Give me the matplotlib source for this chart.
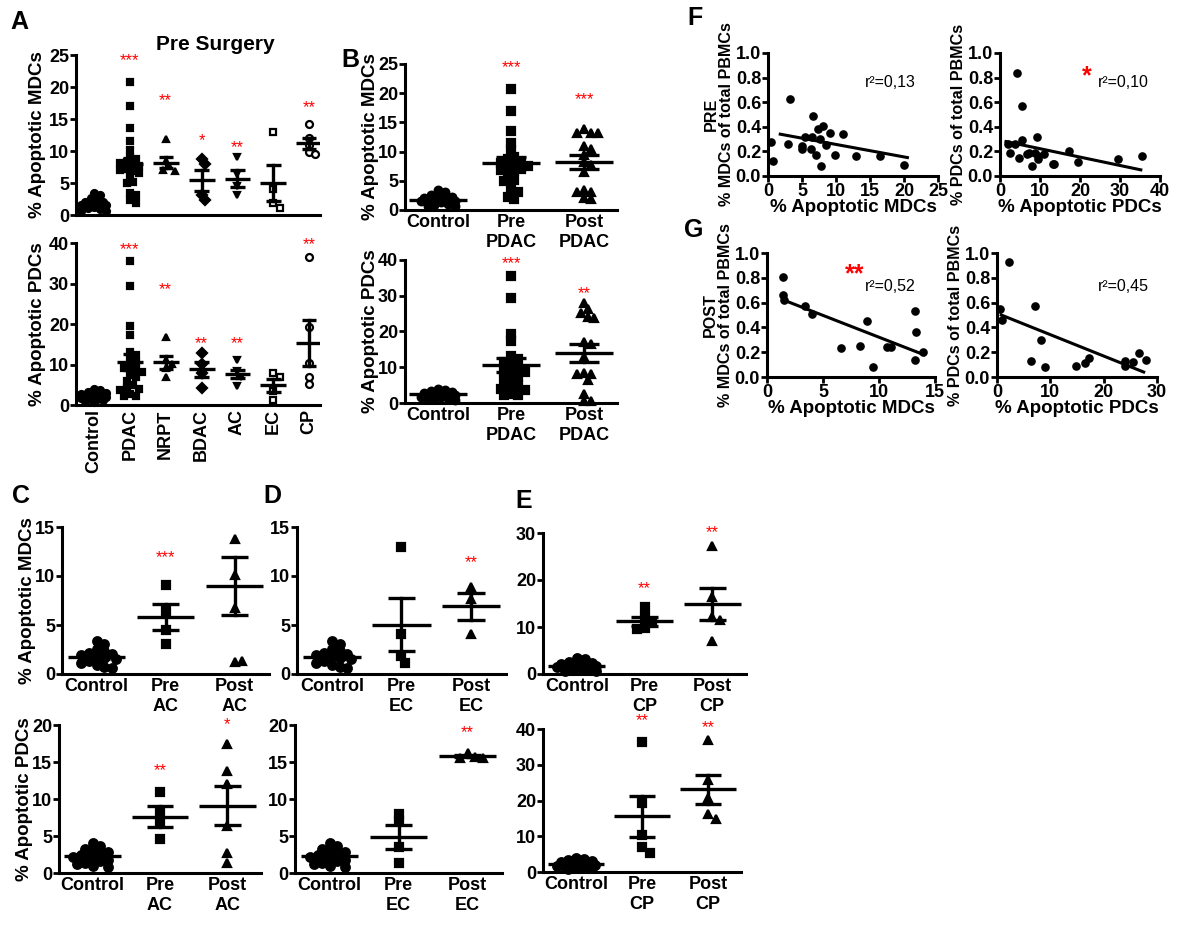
import matplotlib
matplotlib.use('Agg')
import matplotlib.pyplot as plt
import numpy as np

plt.rcParams['font.family'] = ['Liberation Sans', 'DejaVu Sans']
plt.rcParams['font.weight'] = 'bold'
plt.rcParams['axes.labelweight'] = 'bold'

# ---------------- data ----------------
# % apoptotic MDCs
ctrl_mdc = [3.4, 3.1, 2.6, 2.3, 2.1, 2.0, 1.9, 1.8, 1.6, 1.5, 1.3, 1.1, 0.9, 0.7, 0.6]
pdac_mdc = [20.8, 17.0, 13.6, 11.5, 10.2, 9.1, 8.7, 8.3, 8.1, 7.9, 7.6, 7.4, 7.1,
            6.8, 6.6, 6.0, 5.1, 5.0, 3.4, 3.1, 2.3, 1.9]
nrpt_mdc = [11.8, 8.4, 7.6, 7.0, 6.9]
bdac_mdc = [8.7, 7.9, 3.2, 2.3]
ac_mdc = [9.1, 6.4, 4.5, 3.1]
ec_mdc = [13.0, 4.1, 1.8, 1.1]
cp_mdc = [14.2, 12.1, 11.0, 9.8, 9.5]
post_pdac_mdc = [13.8, 13.2, 13.2, 13.2, 10.9, 10.5, 9.4, 8.2, 7.7, 6.5, 3.4, 3.1, 3.1, 2.1, 1.8]
post_ac_mdc = [13.8, 10.1, 6.7, 1.2, 1.3]
post_ec_mdc = [8.9, 7.7, 4.1]
post_cp_mdc = [27.3, 16.3, 12.2, 11.4, 7.1]

# % apoptotic PDCs
ctrl_pdc = [4.0, 3.6, 3.3, 3.0, 2.8, 2.6, 2.4, 2.2, 2.0, 1.8, 1.6, 1.4, 1.2, 1.0, 0.8]
pdac_pdc = [35.5, 29.4, 19.4, 17.4, 13.1, 12.4, 11.6, 10.6, 9.6, 9.2, 8.8, 8.2, 7.3,
            6.8, 5.9, 5.0, 4.2, 4.0, 3.6, 2.6, 2.1, 2.3]
nrpt_pdc = [16.7, 11.0, 10.2, 9.2, 6.9]
bdac_pdc = [12.8, 10.2, 8.0, 4.2]
ac_pdc = [11.0, 8.3, 7.0, 4.6]
ec_pdc = [8.0, 7.0, 3.5, 1.3]
cp_pdc = [36.5, 19.2, 10.3, 7.0, 5.3]
post_pdac_pdc = [28.0, 26.4, 25.2, 24.0, 23.9, 17.1, 16.4, 13.0, 8.3, 8.2, 8.0, 6.5, 2.6, 0.6, 0.6]
post_ac_pdc = [17.5, 13.8, 12.0, 6.3, 2.7, 1.4]
post_ec_pdc = [16.2, 15.7, 15.6, 15.5]
post_cp_pdc = [36.8, 25.8, 20.6, 16.2, 14.8]

groups_a = ['Control', 'PDAC', 'NRPT', 'BDAC', 'AC', 'EC', 'CP']

# mean and SEM bars as drawn
a_mdc_mean = [1.7, 7.9, 8.2, 5.4, 5.7, 5.0, 11.2]
a_mdc_sem = [0.2, 1.0, 0.9, 1.6, 1.3, 2.8, 0.9]
a_pdc_mean = [2.3, 10.6, 10.6, 8.8, 7.7, 4.9, 15.4]
a_pdc_sem = [0.25, 1.9, 1.6, 1.85, 1.05, 1.6, 5.7]
b_mdc_mean = [1.7, 8.0, 8.2]
b_mdc_sem = [0.2, 1.0, 1.15]
b_pdc_mean = [2.4, 10.6, 14.0]
b_pdc_sem = [0.2, 1.85, 2.45]
c_mdc_mean = [1.75, 5.8, 8.95]
c_mdc_sem = [0.2, 1.35, 2.95]
c_pdc_mean = [2.3, 7.6, 9.1]
c_pdc_sem = [0.2, 1.4, 2.65]
d_mdc_mean = [1.75, 5.05, 6.9]
d_mdc_sem = [0.2, 2.75, 1.4]
d_pdc_mean = [2.3, 4.9, 15.8]
d_pdc_sem = [0.2, 1.6, 0.15]
e_mdc_mean = [1.7, 11.2, 14.9]
e_mdc_sem = [0.2, 0.95, 3.45]
e_pdc_mean = [2.3, 15.6, 23.1]
e_pdc_sem = [0.2, 5.7, 4.1]

# significance marks (text, height in data units)
a_mdc_stars = ['', '***', '**', '*', '**', '', '**']
a_mdc_star_y = [0, 24.1, 17.9, 11.6, 10.6, 0, 16.8]
a_pdc_stars = ['', '***', '**', '**', '**', '', '**']
a_pdc_star_y = [0, 38.4, 28.6, 15.1, 15.1, 0, 39.6]

# correlations: % apoptotic (x) vs % of total PBMCs (y)
pre_mdc_x = [0.5, 0.8, 2.9, 3.3, 5.0, 5.0, 5.4, 6.3, 6.5, 6.6, 7.1, 7.4, 7.7, 7.8, 8.1,
             8.5, 9.1, 9.8, 11.1, 12.9, 16.4, 20.0]
pre_mdc_y = [0.28, 0.12, 0.26, 0.63, 0.24, 0.22, 0.32, 0.22, 0.32, 0.49, 0.17, 0.38,
             0.30, 0.08, 0.41, 0.25, 0.35, 0.17, 0.34, 0.16, 0.16, 0.09]
pre_pdc_x = [2.1, 2.5, 3.75, 4.2, 4.8, 5.4, 5.4, 6.8, 7.3, 7.9, 8.75, 9.2, 9.4, 9.6,
             11.0, 13.3, 13.5, 17.3, 19.6, 29.6, 35.4]
pre_pdc_y = [0.26, 0.19, 0.26, 0.84, 0.15, 0.57, 0.29, 0.18, 0.19, 0.08, 0.19, 0.32,
             0.14, 0.16, 0.18, 0.10, 0.10, 0.20, 0.11, 0.14, 0.16]
post_mdc_x = [1.43, 1.43, 1.5, 3.4, 4.05, 6.6, 8.3, 8.9, 9.45, 10.7, 11.1, 13.2, 13.3, 13.25, 13.9]
post_mdc_y = [0.81, 0.66, 0.62, 0.57, 0.505, 0.23, 0.25, 0.45, 0.08, 0.24, 0.24, 0.53, 0.36, 0.14, 0.20]
post_pdc_x = [0.5, 1.0, 2.26, 6.3, 7.1, 8.2, 9.0, 14.75, 16.5, 17.3, 24.0, 24.0, 25.5, 26.6, 27.9]
post_pdc_y = [0.55, 0.46, 0.93, 0.13, 0.57, 0.30, 0.08, 0.09, 0.11, 0.15, 0.13, 0.09, 0.12, 0.19, 0.14]
# regression lines as drawn (x range, y at the ends)
pre_mdc_fit = ([1.8, 20.5], [0.34, 0.15])
pre_pdc_fit = ([1.5, 35.2], [0.28, 0.05])
post_mdc_fit = ([1.5, 14.0], [0.62, 0.18])
post_pdc_fit = ([0.8, 27.5], [0.50, 0.04])
r2_text = ['r\u00b2=0,13', 'r\u00b2=0,10', 'r\u00b2=0,52', 'r\u00b2=0,45']

# ---------------- figure ----------------
W, H = 1200, 930
fig = plt.figure(figsize=(W / 100, H / 100), dpi=100)


def add_ax(left, right, ybot, ytop):
    return fig.add_axes([left / W, 1 - ybot / H, (right - left) / W, (ybot - ytop) / H])


def style(ax, xlim, ylim, yticks, fs=13):
    ax.set_xlim(xlim)
    ax.set_ylim(ylim)
    ax.set_yticks(yticks)
    for s in ['top', 'right']:
        ax.spines[s].set_visible(False)
    for s in ['left', 'bottom']:
        ax.spines[s].set_linewidth(2.2)
    ax.tick_params(axis='y', length=4, width=2, labelsize=fs, pad=1)
    ax.tick_params(axis='x', length=0, labelsize=fs, pad=3)


def swarm(ax, vals, diam, maxw):
    # beeswarm-like sideways spread, kept within +-maxw pixels (markers may overlap)
    bb = ax.get_window_extent()
    x0, x1 = ax.get_xlim()
    y0, y1 = ax.get_ylim()
    ppx = bb.width / (x1 - x0)
    ppy = bb.height / (y1 - y0)
    cands = [0]
    for j in range(1, 40):
        cands += [j, -j]
    placed, offs = [], []
    for v in vals:
        py = v * ppy
        best, best_d = 0.0, -1.0
        for c in cands:
            px = c * diam * 0.45
            if abs(px) > maxw:
                continue
            dmin = min([np.hypot(px - qx, py - qy) for qx, qy in placed] + [1e9])
            if dmin >= diam * 0.85:
                best = px
                break
            if dmin > best_d:
                best, best_d = px, dmin
        placed.append((best, py))
        offs.append(best / ppx)
    return np.array(offs)


def columns(ax, series, means, sems, markers, filled, ms, maxw, half=0.35, cap=0.18, lw=2.4):
    diam = ms * 100 / 72.0
    for i, vals in enumerate(series):
        xs = i + swarm(ax, vals, diam, maxw)
        ax.plot(xs, vals, ls='none', marker=markers[i], ms=ms,
                mfc='black' if filled[i] else 'white', mec='black',
                mew=1.6, clip_on=False, zorder=2)
        m, s = means[i], sems[i]
        ax.plot([i - half, i + half], [m, m], color='black', lw=lw, zorder=3, solid_capstyle='butt')
        ax.plot([i - cap, i + cap], [m + s, m + s], color='black', lw=lw, zorder=3, solid_capstyle='butt')
        ax.plot([i - cap, i + cap], [m - s, m - s], color='black', lw=lw, zorder=3, solid_capstyle='butt')
        ax.plot([i, i], [m - s, m + s], color='black', lw=lw, zorder=3)


def stars(ax, xs, labels, ys, fs=12):
    for x, t, y in zip(xs, labels, ys):
        if t:
            ax.text(x, y, t, color='red', ha='center', va='center', fontsize=fs,
                    fontweight='normal')


# ---- panel A ----
mk_a = ['o', 's', '^', 'D', 'v', 's', 'o']
fill_a = [True, True, True, True, True, False, False]
ax = add_ax(76, 320, 215, 55)
style(ax, (-0.5, 6.3), (0, 25), [0, 5, 10, 15, 20, 25])
ax.set_xticks([])
columns(ax, [ctrl_mdc, pdac_mdc, nrpt_mdc, bdac_mdc, ac_mdc, ec_mdc, cp_mdc],
        a_mdc_mean, a_mdc_sem, mk_a, fill_a, 5.0, 13, half=0.36, cap=0.2)
stars(ax, range(7), a_mdc_stars, a_mdc_star_y)
ax.set_ylabel('% Apoptotic MDCs', fontsize=13.5, labelpad=2)
fig.text(215 / W, 1 - 45 / H, 'Pre Surgery', fontsize=15, fontweight='bold',
         ha='center', va='center')

ax = add_ax(76, 320, 405, 243)
style(ax, (-0.5, 6.3), (0, 40), [0, 10, 20, 30, 40])
ax.set_xticks(range(7))
ax.set_xticklabels(groups_a, rotation=90)
columns(ax, [ctrl_pdc, pdac_pdc, nrpt_pdc, bdac_pdc, ac_pdc, ec_pdc, cp_pdc],
        a_pdc_mean, a_pdc_sem, mk_a, fill_a, 5.0, 13, half=0.36, cap=0.2)
stars(ax, range(7), a_pdc_stars, a_pdc_star_y)
ax.set_ylabel('% Apoptotic PDCs', fontsize=13.5, labelpad=2)

# ---- panel B ----
mk3 = ['o', 's', '^']
fill3 = [True, True, True]
ax = add_ax(405, 617, 210, 64)
style(ax, (-0.45, 2.45), (0, 25), [0, 5, 10, 15, 20, 25])
ax.set_xticks(range(3))
ax.set_xticklabels(['Control', 'Pre\nPDAC', 'Post\nPDAC'])
columns(ax, [ctrl_mdc, pdac_mdc, post_pdac_mdc], b_mdc_mean, b_mdc_sem, mk3, fill3, 5.5, 19,
        half=0.4, cap=0.2)
stars(ax, [1, 2], ['***', '***'], [24.3, 18.9])
ax.set_ylabel('% Apoptotic MDCs', fontsize=13.5, labelpad=-1)

ax = add_ax(405, 617, 403, 260)
style(ax, (-0.45, 2.45), (0, 40), [0, 10, 20, 30, 40])
ax.set_xticks(range(3))
ax.set_xticklabels(['Control', 'Pre\nPDAC', 'Post\nPDAC'])
columns(ax, [ctrl_pdc, pdac_pdc, post_pdac_pdc], b_pdc_mean, b_pdc_sem, mk3, fill3, 5.5, 19,
        half=0.4, cap=0.2)
stars(ax, [1, 2], ['***', '**'], [39.1, 30.7])
ax.set_ylabel('% Apoptotic PDCs', fontsize=13.5, labelpad=-1)

# ---- panels C, D, E ----
cde = [
    ('AC', (62, 269), (59, 261), (0, 15), (0, 20),
     [post_ac_mdc, ac_mdc], [post_ac_pdc, ac_pdc],
     c_mdc_mean, c_mdc_sem, c_pdc_mean, c_pdc_sem,
     (['', '***', ''], [0, 11.9, 0]), (['', '**', '*'], [0, 13.9, 20.1])),
    ('EC', (297, 506), (295, 502), (0, 15), (0, 20),
     [post_ec_mdc, ec_mdc], [post_ec_pdc, ec_pdc],
     d_mdc_mean, d_mdc_sem, d_pdc_mean, d_pdc_sem,
     (['', '', '**'], [0, 0, 11.4]), (['', '', '**'], [0, 0, 19.0])),
    ('CP', (543, 746), (543, 741), (0, 30), (0, 40),
     [post_cp_mdc, cp_mdc], [post_cp_pdc, cp_pdc],
     e_mdc_mean, e_mdc_sem, e_pdc_mean, e_pdc_sem,
     (['', '**', '**'], [0, 18.1, 30.1]), (['', '**', '**'], [0, 42.4, 40.3])),
]
tick_sets = {15: [0, 5, 10, 15], 20: [0, 5, 10, 15, 20], 30: [0, 10, 20, 30], 40: [0, 10, 20, 30, 40]}
top_rows = [(674, 527), (674, 527), (674, 533)]
bot_rows = [(873, 725), (873, 725), (872, 729)]
for k, (name, xt, xb, ylt, ylb, mdc, pdc, mm, ms_, pm, ps, st_t, st_b) in enumerate(cde):
    labels = ['Control', 'Pre\n' + name, 'Post\n' + name]
    ax = add_ax(xt[0], xt[1], top_rows[k][0], top_rows[k][1])
    style(ax, (-0.5, 2.5), ylt, tick_sets[ylt[1]])
    ax.set_xticks(range(3))
    ax.set_xticklabels(labels)
    columns(ax, [ctrl_mdc, mdc[1], mdc[0]], mm, ms_, mk3, fill3, 6.2, 21, half=0.42, cap=0.2)
    stars(ax, range(3), st_t[0], st_t[1])
    if k == 0:
        ax.set_ylabel('% Apoptotic MDCs', fontsize=13.5, labelpad=-1)

    ax = add_ax(xb[0], xb[1], bot_rows[k][0], bot_rows[k][1])
    style(ax, (-0.5, 2.5), ylb, tick_sets[ylb[1]])
    ax.set_xticks(range(3))
    ax.set_xticklabels(labels)
    columns(ax, [ctrl_pdc, pdc[1], pdc[0]], pm, ps, mk3, fill3, 6.2, 21, half=0.42, cap=0.2)
    stars(ax, range(3), st_b[0], st_b[1])
    if k == 0:
        ax.set_ylabel('% Apoptotic PDCs', fontsize=13.5, labelpad=-1)

# ---- panels F, G ----
corr = [
    ((768, 938, 176, 53), pre_mdc_x, pre_mdc_y, pre_mdc_fit, (0, 25), [0, 5, 10, 15, 20, 25],
     '% Apoptotic MDCs', 'PRE\n% MDCs of total PBMCs', r2_text[0], (0.57, 0.76), None),
    ((1000, 1160, 176, 53), pre_pdc_x, pre_pdc_y, pre_pdc_fit, (0, 40), [0, 10, 20, 30, 40],
     '% Apoptotic PDCs', '% PDCs of total PBMCs', r2_text[1], (0.61, 0.76), ('*', 0.54, 0.81)),
    ((767, 935, 377, 253), post_mdc_x, post_mdc_y, post_mdc_fit, (0, 15), [0, 5, 10, 15],
     '% Apoptotic MDCs', 'POST\n% MDCs of total PBMCs', r2_text[2], (0.58, 0.73), ('**', 0.52, 0.83)),
    ((997, 1157, 377, 253), post_pdc_x, post_pdc_y, post_pdc_fit, (0, 30), [0, 10, 20, 30],
     '% Apoptotic PDCs', '% PDCs of total PBMCs', r2_text[3], (0.63, 0.73), None),
]
for box, xs, ys, fit, xl, xt_, xlab, ylab, r2, r2pos, sig in corr:
    ax = add_ax(*box)
    style(ax, xl, (0, 1.0), [0, 0.2, 0.4, 0.6, 0.8, 1.0], fs=13)
    ax.set_yticklabels(['0.0', '0.2', '0.4', '0.6', '0.8', '1.0'])
    ax.set_xticks(xt_)
    ax.tick_params(axis='x', length=4, width=2, pad=1)
    ax.plot(xs, ys, 'ko', ms=5.2, clip_on=False)
    ax.plot(fit[0], fit[1], color='black', lw=2.2)
    ax.set_xlabel(xlab, fontsize=13.5, labelpad=-1)
    ax.set_ylabel(ylab, fontsize=11.6, labelpad=1, linespacing=1.0)
    ax.text(r2pos[0], r2pos[1], r2, transform=ax.transAxes, fontsize=11.5,
            fontweight='normal', va='center', ha='left')
    if sig:
        ax.text(sig[1], sig[2], sig[0], transform=ax.transAxes, fontsize=18,
                color='red', va='center', ha='center')

# panel letters
for letter, px, py in [('A', 19, 22), ('B', 350, 60), ('C', 21, 496), ('D', 272, 496),
                       ('E', 524, 501), ('F', 695, 18), ('G', 694, 230)]:
    fig.text(px / W, 1 - py / H, letter, fontsize=18, fontweight='bold', ha='center', va='center')

fig.savefig('out.png', dpi=100)
